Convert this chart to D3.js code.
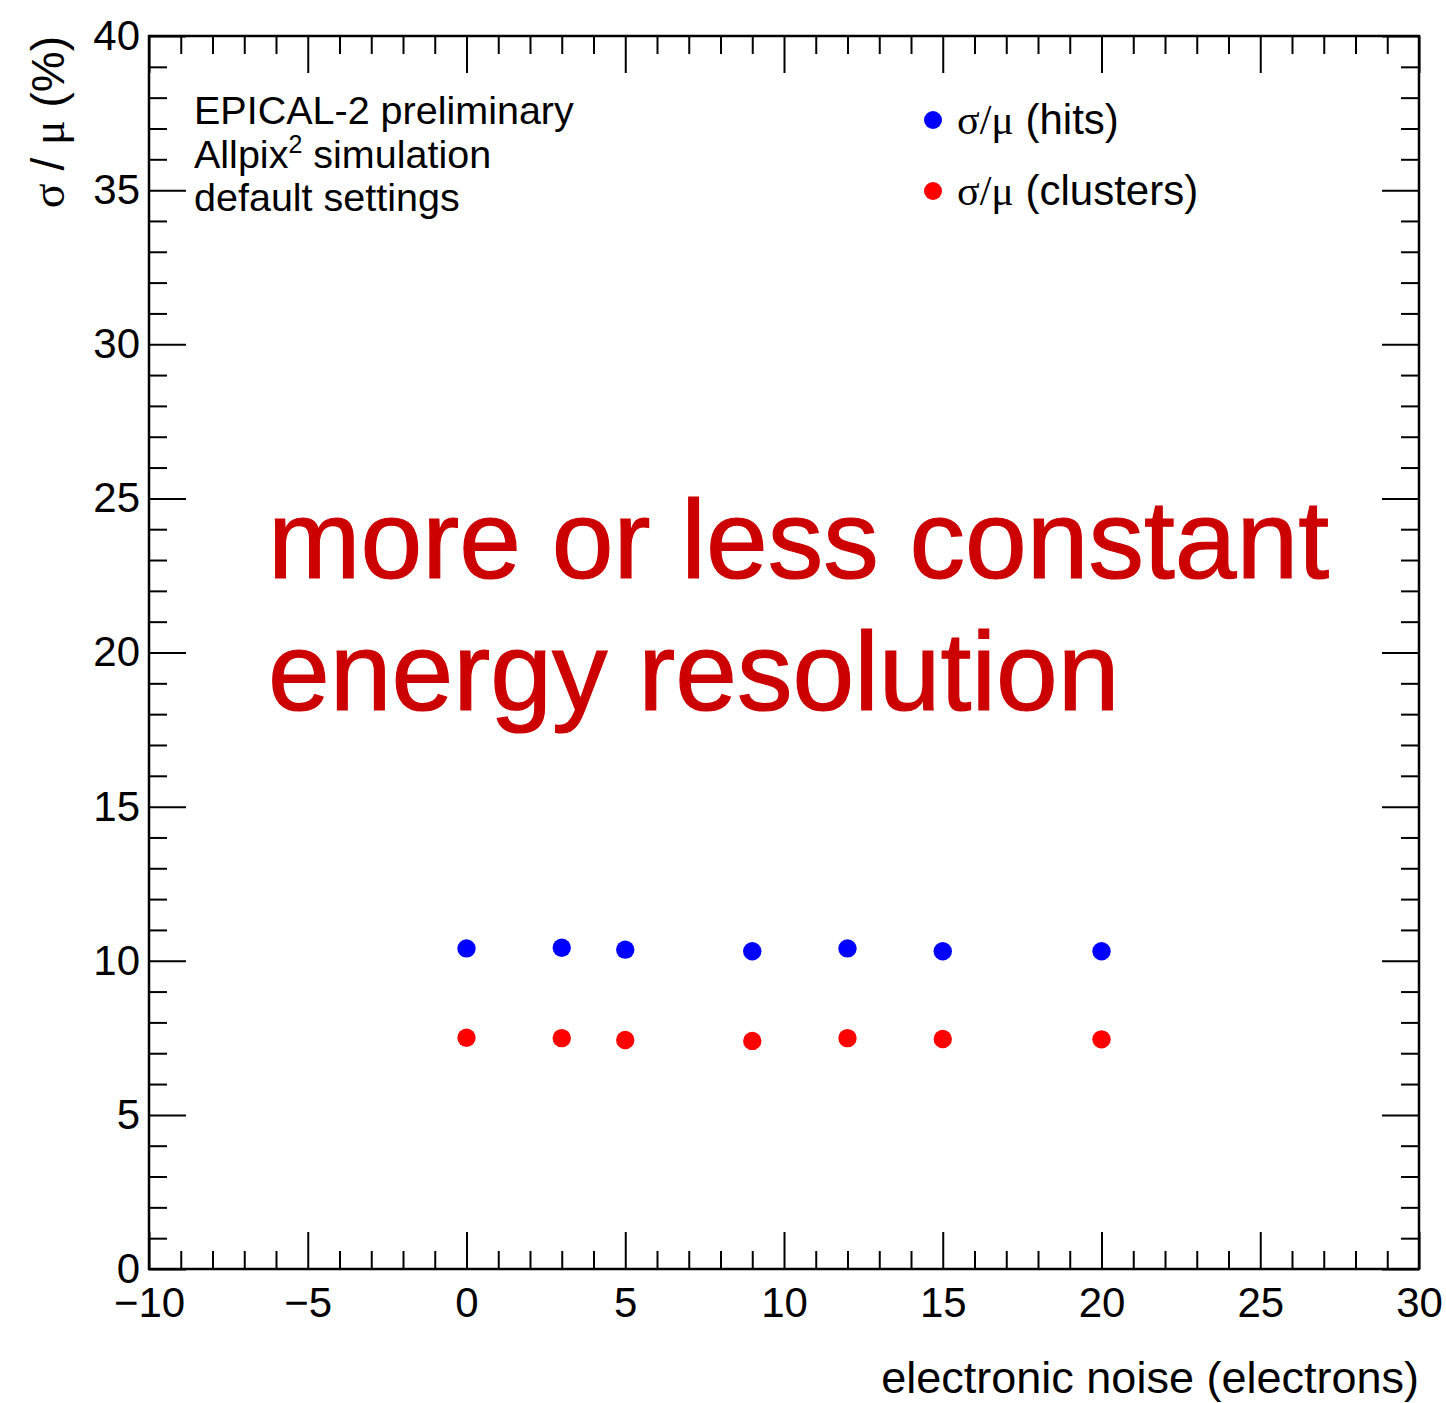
<!DOCTYPE html>
<html>
<head>
<meta charset="utf-8">
<script src="https://cdn.jsdelivr.net/npm/d3@7"></script>
<style>
  html, body { margin: 0; padding: 0; background: #fff; }
  svg { display: block; }
  text { font-family: "Liberation Sans", Arial, Helvetica, sans-serif; fill: #000; }
  .greek { font-family: "Liberation Serif", "DejaVu Serif", serif; }
</style>
</head>
<body>
<script>
// Electronic noise settings (electrons) and relative resolution sigma/mu (%)
const noise = [0, 3, 5, 9, 12, 15, 20];
const resHits = [10.40, 10.42, 10.36, 10.31, 10.40, 10.31, 10.31];
const resClusters = [7.50, 7.49, 7.43, 7.40, 7.49, 7.46, 7.45];

const xDomain = [-10, 30];
const yDomain = [0, 40];
const xMajorTicks = [-10, -5, 0, 5, 10, 15, 20, 25, 30];
const yMajorTicks = [0, 5, 10, 15, 20, 25, 30, 35, 40];

const seriesNames = ["hits", "clusters"];
const seriesColors = ["#0000ff", "#ff0000"];
const infoLines = ["EPICAL-2 preliminary", "Allpix² simulation", "default settings"];
const noteLines = ["more or less constant", "energy resolution"];

const W = 1446, H = 1403;
const frame = { left: 149, right: 1419, top: 36, bottom: 1269 };

const svg = d3.select("body").append("svg")
  .attr("width", W).attr("height", H);

const x = d3.scaleLinear().domain(xDomain).range([frame.left, frame.right]);
const y = d3.scaleLinear().domain(yDomain).range([frame.bottom, frame.top]);

const fmt = d3.format("");
const xMinor = d3.range(xDomain[0], xDomain[1] + 0.001, 1).filter(v => v % 5 !== 0);
const yMinor = d3.range(yDomain[0], yDomain[1] + 0.001, 1).filter(v => v % 5 !== 0);

const MAJ = 37, MIN = 18;

function styleAxis(g) {
  g.select(".domain").remove();
  g.selectAll(".tick line").attr("stroke", "#000").attr("stroke-width", 2);
  g.selectAll(".tick text").attr("font-size", 42).attr("fill", "#000");
}

// bottom axis: ticks point inward (upward)
const gxB = svg.append("g").attr("transform", `translate(0,${frame.bottom})`);
gxB.call(d3.axisBottom(x).tickValues(xMajorTicks).tickFormat(fmt).tickSizeInner(-MAJ).tickSizeOuter(0).tickPadding(10));
gxB.append("g").call(d3.axisBottom(x).tickValues(xMinor).tickFormat("").tickSizeInner(-MIN).tickSizeOuter(0)).call(styleAxis);
styleAxis(gxB);
gxB.selectAll(".tick text").attr("dy", "0.71em").attr("y", 18);

// top axis: mirrored ticks
const gxT = svg.append("g").attr("transform", `translate(0,${frame.top})`);
gxT.call(d3.axisTop(x).tickValues(xMajorTicks).tickFormat("").tickSizeInner(-MAJ).tickSizeOuter(0));
gxT.append("g").call(d3.axisTop(x).tickValues(xMinor).tickFormat("").tickSizeInner(-MIN).tickSizeOuter(0)).call(styleAxis);
styleAxis(gxT);

// left axis
const gyL = svg.append("g").attr("transform", `translate(${frame.left},0)`);
gyL.call(d3.axisLeft(y).tickValues(yMajorTicks).tickFormat(fmt).tickSizeInner(-MAJ).tickSizeOuter(0).tickPadding(9));
gyL.append("g").call(d3.axisLeft(y).tickValues(yMinor).tickFormat("").tickSizeInner(-MIN).tickSizeOuter(0)).call(styleAxis);
styleAxis(gyL);
gyL.selectAll(".tick text").attr("x", -9);

// right axis
const gyR = svg.append("g").attr("transform", `translate(${frame.right},0)`);
gyR.call(d3.axisRight(y).tickValues(yMajorTicks).tickFormat("").tickSizeInner(-MAJ).tickSizeOuter(0));
gyR.append("g").call(d3.axisRight(y).tickValues(yMinor).tickFormat("").tickSizeInner(-MIN).tickSizeOuter(0)).call(styleAxis);
styleAxis(gyR);

// frame
svg.append("rect")
  .attr("x", frame.left).attr("y", frame.top)
  .attr("width", frame.right - frame.left).attr("height", frame.bottom - frame.top)
  .attr("fill", "none").attr("stroke", "#000").attr("stroke-width", 2.5);

// axis titles
svg.append("text")
  .attr("x", frame.right).attr("y", 1393)
  .attr("text-anchor", "end").attr("font-size", 45)
  .text("electronic noise (electrons)");

const yTitle = svg.append("text")
  .attr("transform", `translate(64,${frame.top}) rotate(-90)`)
  .attr("text-anchor", "end").attr("font-size", 46);
yTitle.append("tspan").attr("class", "greek").text("σ");
yTitle.append("tspan").text(" / ");
yTitle.append("tspan").attr("class", "greek").text("μ");
yTitle.append("tspan").text(" (%)");

// info text block
const info = svg.append("g");
info.selectAll("text").data(infoLines).join("text")
  .attr("x", 194).attr("y", (d, i) => 124 + i * 43.5)
  .attr("font-size", 39.5)
  .each(function (d) {
    const t = d3.select(this);
    if (d.includes("²")) {
      const [a, b] = d.split("²");
      t.append("tspan").text(a);
      t.append("tspan").attr("font-size", 25).attr("dy", -15).text("2");
      t.append("tspan").attr("dy", 15).text(b);
    } else {
      t.text(d);
    }
  });

// data markers
const series = [resHits, resClusters];
series.forEach((vals, si) => {
  svg.append("g").selectAll("circle")
    .data(noise.map((n, i) => ({ n, v: vals[i] })))
    .join("circle")
    .attr("cx", d => x(d.n)).attr("cy", d => y(d.v))
    .attr("r", 9.2)
    .attr("fill", seriesColors[si]);
});

// legend
const leg = svg.append("g");
seriesNames.forEach((name, i) => {
  const cy = 120 + i * 71;
  leg.append("circle").attr("cx", 933).attr("cy", cy).attr("r", 9).attr("fill", seriesColors[i]);
  const t = leg.append("text").attr("x", 957).attr("y", cy + 14).attr("font-size", 42);
  t.append("tspan").attr("class", "greek").text("σ/μ");
  t.append("tspan").text(` (${name})`);
});

// red annotation
const note = svg.append("g");
note.selectAll("text").data(noteLines).join("text")
  .attr("x", 268).attr("y", (d, i) => 578 + i * 132)
  .attr("font-size", 111)
  .style("fill", "#cc0000")
  .attr("stroke", "#cc0000").attr("stroke-width", 1.2)
  .text(d => d);
</script>
</body>
</html>
